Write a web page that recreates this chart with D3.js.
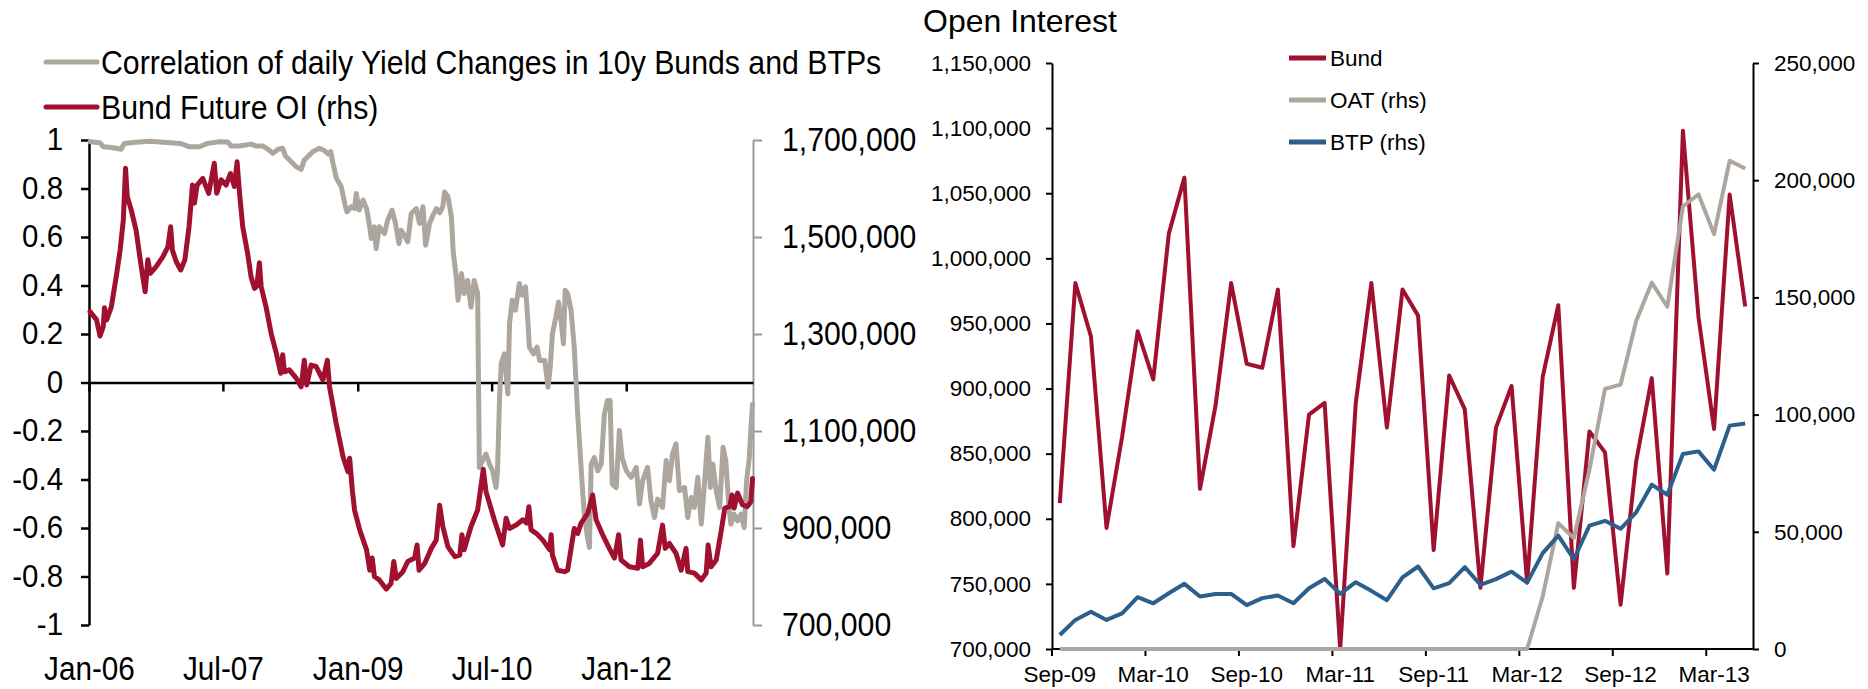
<!DOCTYPE html>
<html>
<head>
<meta charset="utf-8">
<script src="https://cdn.jsdelivr.net/npm/d3@7"></script>
<style>
  body { margin: 0; background: #fff; }
  svg { display: block; }
  text { font-family: "Liberation Sans", Arial, sans-serif; fill: #000; }
</style>
</head>
<body>
<svg id="chart" width="1868" height="689"></svg>
<script>
// ---------- Left panel: correlation vs. Bund future open interest ----------
const corrDates = ["2006-01-05","2006-02-15","2006-02-28","2006-03-25","2006-04-22","2006-05-12","2006-05-25","2006-06-28","2006-09-06","2006-11-13",
  "2007-01-07","2007-02-16","2007-03-27","2007-04-30","2007-06-17","2007-07-21","2007-08-04","2007-09-07","2007-10-24","2007-11-14",
  "2007-12-11","2008-01-01","2008-01-21","2008-02-11","2008-03-01","2008-03-12","2008-04-05","2008-04-25","2008-05-15","2008-05-28",
  "2008-06-11","2008-07-02","2008-07-29","2008-08-19","2008-09-02","2008-09-13","2008-09-22","2008-10-06","2008-10-26","2008-11-09",
  "2008-11-18","2008-12-06","2008-12-19","2008-12-26","2009-01-07","2009-01-23","2009-02-06","2009-02-19","2009-02-25","2009-03-10",
  "2009-03-17","2009-03-30","2009-04-20","2009-05-03","2009-05-21","2009-06-04","2009-06-18","2009-06-27","2009-07-10","2009-07-24",
  "2009-08-07","2009-08-28","2009-09-10","2009-09-24","2009-10-05","2009-10-21","2009-11-04","2009-11-18","2009-12-01","2009-12-14",
  "2009-12-21","2010-01-04","2010-01-18","2010-01-25","2010-02-08","2010-02-14","2010-02-28","2010-03-11","2010-03-25","2010-04-08",
  "2010-04-21","2010-05-05","2010-05-12","2010-05-25","2010-06-08","2010-06-22","2010-07-05","2010-07-19","2010-07-25","2010-08-02",
  "2010-08-09","2010-08-22","2010-09-05","2010-09-12","2010-09-23","2010-10-06","2010-10-22","2010-11-03","2010-11-16","2010-11-25",
  "2010-12-02","2010-12-19","2011-01-02","2011-01-13","2011-02-03","2011-02-16","2011-02-25","2011-03-06","2011-03-20","2011-03-31",
  "2011-04-10","2011-04-20","2011-04-27","2011-05-07","2011-05-21","2011-06-03","2011-06-17","2011-07-07","2011-07-14","2011-07-27",
  "2011-08-04","2011-08-11","2011-08-24","2011-09-07","2011-09-21","2011-10-04","2011-10-17","2011-10-27","2011-11-05","2011-11-21",
  "2011-12-04","2011-12-15","2012-01-01","2012-01-21","2012-02-11","2012-02-24","2012-03-08","2012-03-28","2012-04-11","2012-04-25",
  "2012-05-08","2012-05-28","2012-06-12","2012-06-25","2012-07-08","2012-07-22","2012-08-05","2012-08-26","2012-09-08","2012-09-22",
  "2012-10-05","2012-10-19","2012-11-02","2012-11-16","2012-11-29","2012-12-09","2012-12-19","2013-01-02","2013-01-16","2013-01-30",
  "2013-02-10","2013-02-23","2013-03-03","2013-03-16","2013-03-30","2013-04-13","2013-04-26","2013-05-06","2013-05-17","2013-05-23",
  "2013-05-30"];
const corrValues = [0.993,0.989,0.972,0.970,0.966,0.962,0.986,0.990,0.995,0.990,
  0.986,0.972,0.972,0.986,0.993,0.992,0.975,0.975,0.983,0.975,
  0.975,0.962,0.945,0.962,0.966,0.934,0.910,0.890,0.879,0.917,
  0.931,0.952,0.966,0.956,0.942,0.952,0.904,0.842,0.807,0.738,
  0.704,0.725,0.717,0.779,0.711,0.752,0.717,0.642,0.594,0.642,
  0.552,0.642,0.614,0.669,0.711,0.656,0.573,0.628,0.607,0.580,
  0.697,0.717,0.656,0.725,0.566,0.656,0.690,0.717,0.700,0.725,
  0.786,0.766,0.683,0.545,0.421,0.339,0.449,0.367,0.421,0.311,
  0.421,0.367,-0.350,-0.322,-0.295,-0.336,-0.364,-0.433,-0.364,-0.074,
  0.077,0.118,-0.047,0.243,0.339,0.298,0.408,0.360,0.394,0.270,
  0.146,0.118,0.146,0.091,0.091,-0.019,0.063,0.201,0.270,0.332,
  0.256,0.160,0.380,0.367,0.298,0.146,-0.129,-0.446,-0.543,-0.639,
  -0.680,-0.336,-0.309,-0.364,-0.336,-0.129,-0.074,-0.074,-0.419,-0.433,
  -0.198,-0.309,-0.364,-0.391,-0.350,-0.501,-0.405,-0.350,-0.488,-0.557,
  -0.481,-0.515,-0.322,-0.405,-0.295,-0.253,-0.446,-0.433,-0.557,-0.474,
  -0.515,-0.391,-0.584,-0.405,-0.226,-0.433,-0.336,-0.446,-0.515,-0.267,
  -0.322,-0.515,-0.584,-0.543,-0.570,-0.543,-0.598,-0.405,-0.309,-0.198,
  -0.090];

const oiDates = ["2006-01-05","2006-02-01","2006-02-15","2006-02-28","2006-03-05","2006-03-14","2006-04-02","2006-04-22","2006-05-08","2006-05-21",
  "2006-05-30","2006-06-06","2006-06-22","2006-07-12","2006-08-02","2006-08-18","2006-08-29","2006-09-08","2006-10-02","2006-10-29",
  "2006-11-19","2006-11-30","2006-12-07","2006-12-23","2007-01-10","2007-01-27","2007-02-13","2007-02-27","2007-03-07","2007-03-18",
  "2007-04-10","2007-05-04","2007-05-27","2007-06-06","2007-06-24","2007-07-14","2007-08-01","2007-08-17","2007-08-28","2007-09-07",
  "2007-09-20","2007-10-10","2007-10-24","2007-11-07","2007-11-16","2007-11-27","2007-12-04","2007-12-24","2008-01-14","2008-02-04",
  "2008-02-22","2008-03-01","2008-03-08","2008-03-28","2008-04-25","2008-05-15","2008-05-28","2008-06-07","2008-06-25","2008-07-15",
  "2008-08-12","2008-08-30","2008-09-08","2008-10-05","2008-11-02","2008-11-22","2008-11-29","2008-12-10","2008-12-19","2009-01-09",
  "2009-02-06","2009-02-19","2009-03-01","2009-03-10","2009-03-30","2009-04-27","2009-05-17","2009-05-28","2009-06-07","2009-07-04",
  "2009-07-24","2009-08-21","2009-08-31","2009-09-08","2009-10-01","2009-10-28","2009-11-17","2009-12-01","2009-12-14","2010-01-04",
  "2010-02-01","2010-02-21","2010-03-02","2010-03-11","2010-04-08","2010-05-05","2010-05-28","2010-06-08","2010-07-12","2010-08-15",
  "2010-08-29","2010-09-12","2010-10-09","2010-11-05","2010-11-21","2010-11-30","2010-12-09","2010-12-30","2011-01-26","2011-02-23",
  "2011-03-01","2011-03-06","2011-03-27","2011-04-24","2011-05-07","2011-06-03","2011-06-17","2011-07-01","2011-07-28","2011-08-17",
  "2011-08-31","2011-09-27","2011-10-24","2011-11-14","2011-12-01","2011-12-11","2012-01-14","2012-02-17","2012-02-28","2012-03-08",
  "2012-04-04","2012-05-08","2012-05-28","2012-06-08","2012-06-25","2012-07-22","2012-08-12","2012-09-01","2012-09-08","2012-10-05",
  "2012-11-02","2012-11-22","2012-11-30","2012-12-12","2013-01-02","2013-01-23","2013-02-06","2013-02-26","2013-03-07","2013-03-16",
  "2013-03-30","2013-04-19","2013-05-09","2013-05-23","2013-05-30"];
const oiValues = [1346000,1329000,1296000,1315000,1354000,1329000,1356000,1418000,1473000,1535000,
  1642000,1583000,1556000,1514000,1439000,1387000,1453000,1425000,1439000,1459000,
  1480000,1521000,1473000,1449000,1432000,1453000,1521000,1607000,1570000,1607000,
  1621000,1590000,1652000,1590000,1618000,1607000,1631000,1604000,1655000,1590000,
  1521000,1466000,1418000,1394000,1398000,1447000,1398000,1356000,1301000,1260000,
  1219000,1257000,1222000,1226000,1209000,1191000,1246000,1195000,1236000,1233000,
  1205000,1246000,1191000,1116000,1047000,1016000,1044000,978000,937000,896000,
  855000,813000,838000,800000,793000,774000,786000,831000,796000,810000,
  831000,838000,865000,813000,827000,858000,875000,947000,903000,861000,
  841000,844000,886000,855000,903000,937000,1021000,975000,917000,865000,
  920000,899000,906000,917000,910000,944000,896000,889000,875000,855000,
  886000,844000,813000,810000,813000,899000,889000,910000,930000,968000,
  917000,886000,858000,838000,886000,834000,820000,817000,875000,820000,
  827000,848000,906000,858000,868000,848000,813000,858000,810000,807000,
  793000,807000,865000,820000,834000,896000,941000,944000,968000,941000,
  972000,948000,944000,954000,1002000];

const leftTickDates = ["2006-01-01","2007-07-01","2009-01-01","2010-07-01","2012-01-01"];
const corrTicks = [1, 0.8, 0.6, 0.4, 0.2, 0, -0.2, -0.4, -0.6, -0.8, -1];
const oiTicks = [700000, 900000, 1100000, 1300000, 1500000, 1700000];

// ---------- Right panel: monthly open interest ----------
const months = ["Sep-09","Oct-09","Nov-09","Dec-09","Jan-10","Feb-10","Mar-10","Apr-10","May-10","Jun-10",
  "Jul-10","Aug-10","Sep-10","Oct-10","Nov-10","Dec-10","Jan-11","Feb-11","Mar-11","Apr-11",
  "May-11","Jun-11","Jul-11","Aug-11","Sep-11","Oct-11","Nov-11","Dec-11","Jan-12","Feb-12",
  "Mar-12","Apr-12","May-12","Jun-12","Jul-12","Aug-12","Sep-12","Oct-12","Nov-12","Dec-12",
  "Jan-13","Feb-13","Mar-13","Apr-13","May-13"];
const bundOI = [812000,981000,940000,793000,863000,944000,907000,1019000,1062000,823000,
  887000,981000,919000,916000,976000,779000,880000,889000,700000,889000,
  981000,870000,976000,956000,776000,910000,884000,747000,870000,902000,
  751000,909000,964000,747000,867000,851000,734000,844000,908000,758000,
  1098000,955000,869000,1049000,963000];
const oatOI = [0,0,0,0,0,0,0,0,0,0,
  0,0,0,0,0,0,0,0,0,0,
  0,0,0,0,0,0,0,0,0,0,
  0,22400,53700,47300,76500,111000,112800,139900,156300,146000,
  188800,194000,177000,208300,205000];
const btpOI = [6000,12400,15900,12400,15200,22100,19500,23800,27800,22400,
  23500,23500,18700,21700,22800,19500,25900,29900,23500,28500,
  24800,20800,30600,35200,25900,28100,34900,27400,29800,33000,
  28300,40900,48400,38300,52600,54700,51300,58300,70100,65800,
  83200,84300,76500,95300,96200];
const monthTicks = ["Sep-09","Mar-10","Sep-10","Mar-11","Sep-11","Mar-12","Sep-12","Mar-13"];
const bundTicks = [700000,750000,800000,850000,900000,950000,1000000,1050000,1100000,1150000];
const rhsTicks = [0,50000,100000,150000,200000,250000];

// ---------- colours ----------
const RED = "#A0102F", GREY = "#ADA69F", BLUE = "#2C5F8C";
const FONT = '"Liberation Sans", Arial, sans-serif';

const svg = d3.select("#chart");
const parse = d3.utcParse("%Y-%m-%d");
const fmtComma = d3.format(",");

function styleAxis(g, size, color, width) {
  g.attr("font-family", FONT).attr("font-size", size);
  g.selectAll(".domain").attr("stroke", color).attr("stroke-width", width);
  g.selectAll(".tick line").attr("stroke", color).attr("stroke-width", width);
  g.selectAll(".tick text").attr("fill", "#000");
}

// narrow the glyphs horizontally about each text's own x position
function condense(sel, k) {
  sel.each(function () {
    const x0 = +this.getAttribute("x") || 0;
    this.setAttribute("transform", `translate(${x0},0) scale(${k},1) translate(${-x0},0)`);
  });
}

// ===== Left panel =====
const xL = d3.scaleUtc().domain([parse("2006-01-01"), parse("2013-06-01")]).range([89, 753]);
const yCorr = d3.scaleLinear().domain([-1, 1]).range([625, 140]);
const yOI = d3.scaleLinear().domain([700000, 1700000]).range([625, 140]);

const left = svg.append("g");

left.append("g").attr("transform", "translate(89,0)")
  .call(d3.axisLeft(yCorr).tickValues(corrTicks).tickSize(8).tickSizeOuter(0).tickPadding(18)
    .tickFormat(d => String(+d.toFixed(1))))
  .call(g => styleAxis(g, 31, "#000", 2.5))
  .call(g => condense(g.selectAll(".tick text"), 0.95));

left.append("g").attr("transform", "translate(753,0)")
  .call(d3.axisRight(yOI).tickValues(oiTicks).tickSize(9).tickSizeOuter(0).tickPadding(20).tickFormat(fmtComma))
  .call(g => styleAxis(g, 32.5, "#999", 2))
  .call(g => condense(g.selectAll(".tick text"), 0.93));

left.append("g").attr("transform", `translate(0,${yCorr(0)})`)
  .call(d3.axisBottom(xL).tickValues(leftTickDates.map(parse)).tickSize(9).tickSizeOuter(0).tickFormat(""))
  .call(g => styleAxis(g, 31, "#000", 2.5));

left.append("g").attr("transform", "translate(0,657)")
  .call(d3.axisBottom(xL).tickValues(leftTickDates.map(parse)).tickSize(0).tickPadding(0)
    .tickFormat(d3.utcFormat("%b-%y")))
  .call(g => { styleAxis(g, 33, "#000", 0); g.select(".domain").remove(); })
  .call(g => condense(g.selectAll(".tick text"), 0.9));

const corrPts = corrDates.map((d, i) => [xL(parse(d)), yCorr(corrValues[i])]);
const oiPts = oiDates.map((d, i) => [xL(parse(d)), yOI(oiValues[i])]);

left.append("path").attr("d", d3.line()(corrPts))
  .attr("fill", "none").attr("stroke", GREY).attr("stroke-width", 5)
  .attr("stroke-linejoin", "round").attr("stroke-linecap", "round");
left.append("path").attr("d", d3.line()(oiPts))
  .attr("fill", "none").attr("stroke", RED).attr("stroke-width", 5)
  .attr("stroke-linejoin", "round").attr("stroke-linecap", "round");

// legend
const leftLegend = [
  { label: "Correlation of daily Yield Changes in 10y Bunds and BTPs", color: GREY, y: 62 },
  { label: "Bund Future OI (rhs)", color: RED, y: 107 }
];
const ll = left.selectAll(".lleg").data(leftLegend).join("g").attr("class", "lleg");
ll.append("line").attr("x1", 46).attr("x2", 97).attr("y1", d => d.y).attr("y2", d => d.y)
  .attr("stroke", d => d.color).attr("stroke-width", 5).attr("stroke-linecap", "round");
ll.append("text").attr("x", 101).attr("y", d => d.y).attr("dy", "0.35em")
  .attr("font-size", 34).text(d => d.label)
  .call(t => condense(t, 0.89));

// ===== Right panel =====
const xR = d3.scaleBand().domain(months).range([1052, 1753]).paddingInner(0).paddingOuter(0);
const cx = m => xR(m) + xR.bandwidth() / 2;
const yBund = d3.scaleLinear().domain([700000, 1150000]).range([649, 63]);
const yRhs = d3.scaleLinear().domain([0, 250000]).range([649, 63]);

const right = svg.append("g");

right.append("text").attr("x", 923).attr("y", 21).attr("dy", "0.35em")
  .attr("font-size", 32).text("Open Interest");

right.append("g").attr("transform", "translate(1052,0)")
  .call(d3.axisLeft(yBund).tickValues(bundTicks).tickSize(6).tickSizeOuter(0).tickPadding(15).tickFormat(fmtComma))
  .call(g => styleAxis(g, 22.5, "#000", 2));

right.append("g").attr("transform", "translate(1753,0)")
  .call(d3.axisRight(yRhs).tickValues(rhsTicks).tickSize(6).tickSizeOuter(0).tickPadding(15).tickFormat(fmtComma))
  .call(g => styleAxis(g, 22.5, "#000", 2));

// category axis: tick marks sit on month boundaries, labels on month centres
right.append("line").attr("x1", 1052).attr("x2", 1753).attr("y1", 649).attr("y2", 649)
  .attr("stroke", "#000").attr("stroke-width", 2);
right.selectAll(".mtick").data(monthTicks).join("line").attr("class", "mtick")
  .attr("x1", d => xR(d)).attr("x2", d => xR(d)).attr("y1", 649).attr("y2", 656)
  .attr("stroke", "#000").attr("stroke-width", 2);
right.append("g").attr("transform", "translate(0,666)")
  .call(d3.axisBottom(xR).tickValues(monthTicks).tickSize(0).tickPadding(0))
  .call(g => { styleAxis(g, 22.5, "#000", 0); g.select(".domain").remove(); });

const lineR = (vals, y) => d3.line()(months.map((m, i) => [cx(m), y(vals[i])]));
right.append("path").attr("d", lineR(bundOI, yBund)).attr("fill", "none")
  .attr("stroke", RED).attr("stroke-width", 4).attr("stroke-linejoin", "round");
right.append("path").attr("d", lineR(oatOI, yRhs)).attr("fill", "none")
  .attr("stroke", GREY).attr("stroke-width", 4).attr("stroke-linejoin", "round");
right.append("path").attr("d", lineR(btpOI, yRhs)).attr("fill", "none")
  .attr("stroke", BLUE).attr("stroke-width", 4).attr("stroke-linejoin", "round");

const rightLegend = [
  { label: "Bund", color: RED, y: 58 },
  { label: "OAT (rhs)", color: GREY, y: 100 },
  { label: "BTP (rhs)", color: BLUE, y: 142 }
];
const rl = right.selectAll(".rleg").data(rightLegend).join("g").attr("class", "rleg");
rl.append("line").attr("x1", 1289).attr("x2", 1326).attr("y1", d => d.y).attr("y2", d => d.y)
  .attr("stroke", d => d.color).attr("stroke-width", 5);
rl.append("text").attr("x", 1330).attr("y", d => d.y).attr("dy", "0.35em")
  .attr("font-size", 22.5).text(d => d.label);
</script>
</body>
</html>
